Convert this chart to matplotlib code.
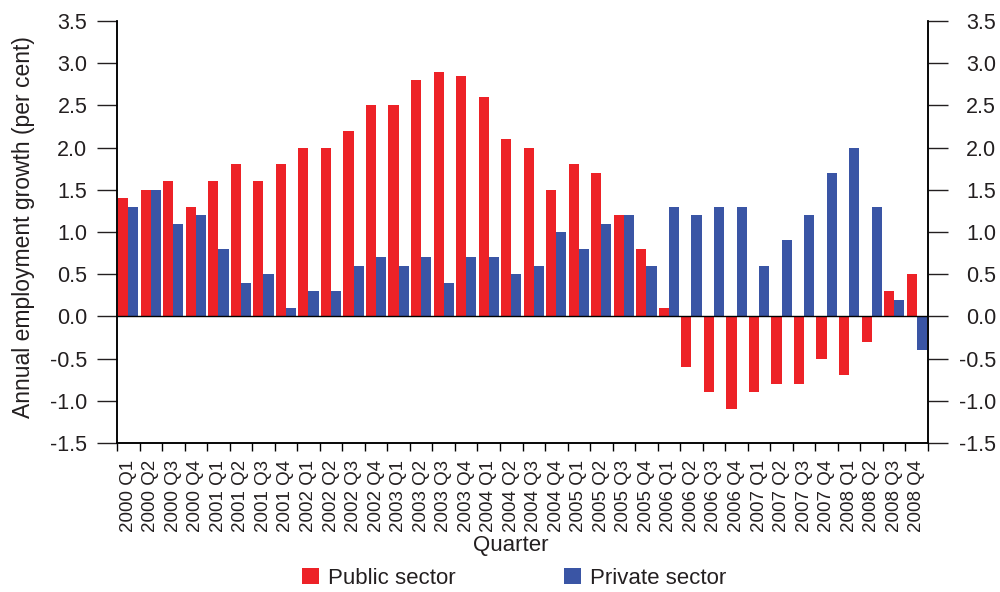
import numpy as np
import matplotlib.pyplot as plt
from matplotlib.ticker import FixedLocator, FormatStrFormatter

plt.rcParams["font.family"] = ["Liberation Sans", "DejaVu Sans"]
plt.rcParams["axes.unicode_minus"] = False

quarters = [f"{y} Q{q}" for y in range(2000, 2009) for q in range(1, 5)]

public_sector = [1.4, 1.5, 1.6, 1.3, 1.6, 1.8, 1.6, 1.8,
                 2.0, 2.0, 2.2, 2.5, 2.5, 2.8, 2.9, 2.85,
                 2.6, 2.1, 2.0, 1.5, 1.8, 1.7, 1.2, 0.8,
                 0.1, -0.6, -0.9, -1.1, -0.9, -0.8, -0.8, -0.5,
                 -0.7, -0.3, 0.3, 0.5]
private_sector = [1.3, 1.5, 1.1, 1.2, 0.8, 0.4, 0.5, 0.1,
                  0.3, 0.3, 0.6, 0.7, 0.6, 0.7, 0.4, 0.7,
                  0.7, 0.5, 0.6, 1.0, 0.8, 1.1, 1.2, 0.6,
                  1.3, 1.2, 1.3, 1.3, 0.6, 0.9, 1.2, 1.7,
                  2.0, 1.3, 0.2, -0.4]

RED = "#ED2227"
BLUE = "#3A55A5"
TEXT = "#231F20"

fig = plt.figure(figsize=(10, 5.92), dpi=100)
ax = fig.add_axes([0.117, 0.2517, 0.811, 0.7128])

x = np.arange(len(quarters))
w = 0.45
ax.bar(x - w / 2, public_sector, width=w, color=RED, label="Public sector")
ax.bar(x + w / 2, private_sector, width=w, color=BLUE, label="Private sector")
ax.axhline(0, color="black", lw=1.0, zorder=3)

ax.set_xlim(-0.5, len(quarters) - 0.5)
ylim = (-1.5, 3.5)
yticks = np.arange(-1.5, 3.51, 0.5)
ax.set_ylim(*ylim)

# left y axis
ax.set_yticks(yticks)
ax.yaxis.set_major_formatter(FormatStrFormatter("%.1f"))
ax.tick_params(axis="y", direction="out", length=14.4, width=1.0,
               labelsize=15.5, colors=TEXT, pad=7)

# right y axis mirrors the left one, labels flush right
ax2 = ax.twinx()
ax2.set_ylim(*ylim)
ax2.set_yticks(yticks)
ax2.yaxis.set_major_formatter(FormatStrFormatter("%.1f"))
ax2.tick_params(axis="y", direction="out", length=14.4, width=1.0,
                labelsize=15.5, colors=TEXT, pad=34.5)
for lbl in ax2.get_yticklabels():
    lbl.set_horizontalalignment("right")

# x axis: labels at bar centres, tick marks at quarter boundaries
ax.set_xticks(x)
ax.set_xticklabels(quarters, rotation=90, fontsize=13.5, color=TEXT)
ax.xaxis.set_minor_locator(FixedLocator(np.arange(-0.5, len(quarters), 1.0)))
ax.tick_params(axis="x", which="major", length=0, pad=12)
ax.tick_params(axis="x", which="minor", direction="out", length=6, width=1.0)

for a in (ax, ax2):
    for side in ["left", "right", "bottom"]:
        a.spines[side].set_linewidth(1.1)
    a.spines["top"].set_visible(False)

ax.set_ylabel("Annual employment growth (per cent)", fontsize=16.5, color=TEXT)
ax.yaxis.set_label_coords(-0.101, 0.511)
ax.set_xlabel("Quarter", fontsize=16, color=TEXT)
ax.xaxis.set_label_coords(0.485, -0.218)

fig.legend(loc="center", bbox_to_anchor=(0.514, 0.0236), ncol=2, frameon=False,
           fontsize=16, handlelength=0.77, handleheight=0.77, columnspacing=4.9,
           handletextpad=0.4, labelcolor=TEXT)

fig.savefig("out.png", dpi=100)
